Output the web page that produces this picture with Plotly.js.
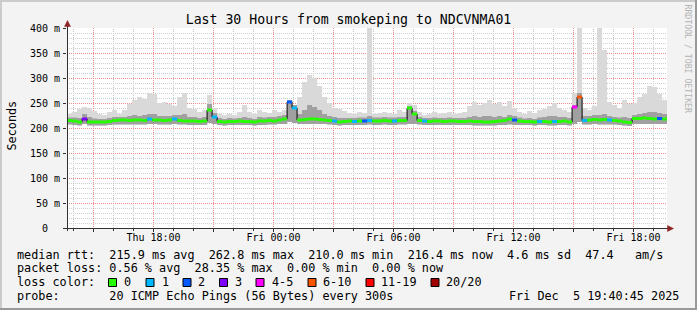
<!DOCTYPE html>
<html><head><meta charset="utf-8">
<script src="https://cdn.plot.ly/plotly-3.0.1.min.js"></script>
<style>html,body{margin:0;padding:0;background:#f3f3f3;overflow:hidden}#chart{width:697px;height:310px}</style>
</head><body><div id="chart"></div>
<script>
// ---- data (15-minute bins, 30 hours) ----
const startUTC = [2025, 11, 4, 13, 40, 45];   // Thu Dec 4 13:40:45
const stepMinutes = 15;
const axisRange = ['2025-12-04 13:40:30', '2025-12-05 19:40:30'];

const median = [
215,214,212,218,212,212,212,212,213,215,
216,216,215,216,216,215,218,216,216,215,
216,218,215,214,214,214,213,214,236,222,
213,212,213,213,214,213,213,212,214,214,
215,214,216,218,252,240,216,217,218,218,
217,216,215,214,212,213,214,213,214,214,
215,214,214,215,214,214,215,215,240,228,
215,214,213,214,214,213,214,214,213,213,
214,213,213,212,212,213,214,215,218,216,
214,213,213,212,213,213,212,213,213,214,
212,242,262,215,216,217,216,217,216,215,
214,212,211,219,219,220,219,218,219,218];

const lossPings = [
0,0,0,3,0,0,0,0,0,0,
0,0,0,0,0,0,1,0,0,0,
0,1,0,0,0,0,0,0,0,1,
0,0,0,0,0,0,0,0,0,0,
0,0,0,0,2,1,0,0,0,0,
0,0,0,1,0,0,0,1,0,2,
1,0,0,0,0,1,0,0,0,0,
0,1,0,0,0,0,0,0,0,0,
0,0,0,0,0,0,0,0,0,2,
0,0,0,0,1,0,0,1,0,0,
0,4,6,1,0,0,0,0,1,0,
0,0,0,0,0,0,0,0,2,0];

const smokeMin = [
207,206,205,208,205,205,205,205,206,207,
207,207,207,207,207,207,208,208,207,207,
207,208,207,207,206,206,206,206,210,208,
206,205,206,206,206,206,206,205,206,206,
207,207,208,208,212,210,208,208,208,208,
208,208,207,206,205,206,206,206,206,206,
207,206,206,207,206,206,207,207,208,208,
207,206,206,206,206,206,206,206,206,206,
206,205,205,205,205,205,206,206,207,206,
206,206,206,205,206,206,205,205,206,206,
205,208,212,207,207,208,207,207,207,207,
206,205,204,208,208,208,208,208,208,208];

const smokeInner = [
221,221,220,228,222,219,218,218,220,222,
222,222,224,226,224,226,228,228,224,224,
224,226,226,228,222,222,220,222,248,230,
220,218,220,219,220,222,220,218,222,221,
222,222,224,226,256,246,228,236,246,242,
236,228,224,222,220,220,220,220,221,221,
224,221,221,222,221,221,222,222,244,234,
222,220,220,221,220,220,221,220,220,220,
222,224,222,224,224,222,224,222,226,224,
221,219,220,218,221,222,224,224,222,222,
220,246,270,224,224,226,226,228,224,222,
221,222,220,226,228,230,232,232,230,228];

const smokeMax = [
228,232,238,242,240,234,228,226,232,236,
228,236,248,256,262,258,270,268,250,252,
248,244,262,270,240,238,232,236,266,240,
228,226,228,226,232,246,232,228,236,232,
230,236,232,236,256,246,262,292,306,300,
284,262,250,240,238,234,230,228,232,230,
400,228,230,232,230,228,236,232,250,246,
232,226,228,232,228,230,232,228,230,232,
244,252,246,250,256,248,252,244,254,240,
232,228,234,230,236,238,244,250,240,236,
232,270,400,240,236,244,400,356,252,246,
240,256,248,250,262,268,284,282,268,256];

const lossLabels = ['0','1','2','3','4-5','6-10','11-19','20/20'];
const lossUpper  = [0,1,2,3,5,10,19,20];
const lossColors = ['#26ff00','#00b8ff','#0059ff','#7e00ff','#ff00ff','#ff5500','#ff0000','#a10000'];

const xTickVals = ['2025-12-04 15:00','2025-12-04 18:00','2025-12-04 21:00','2025-12-05 00:00','2025-12-05 03:00',
                   '2025-12-05 06:00','2025-12-05 09:00','2025-12-05 12:00','2025-12-05 15:00','2025-12-05 18:00'];
const xTickText = ['','Thu 18:00','','Fri 00:00','','Fri 06:00','','Fri 12:00','','Fri 18:00'];
const yTickVals = [0,50,100,150,200,250,300,350,400];
const yTickText = ['0\u00a0\u00a0','50 m','100 m','150 m','200 m','250 m','300 m','350 m','400 m'];

const titleText = 'Last 30 Hours from smokeping to NDCVNMA01';
const legendRows = [
  'median rtt:  215.9 ms avg  262.8 ms max  210.0 ms min  216.4 ms now  4.6 ms sd  47.4   am/s',
  'packet loss: 0.56 % avg  28.35 % max  0.00 % min  0.00 % now',
  'loss color:',
  'probe:       20 ICMP Echo Pings (56 Bytes) every 300s'
];
const dateStamp = 'Fri Dec  5 19:40:45 2025';
const watermark = 'RRDTOOL / TOBI OETIKER';

// ---- build ----
const MONO = 'DejaVu Sans Mono';
const L = 67, T = 28, W = 600, H = 200;
const px = x => (x - L) / W;
const py = y => (T + H - y) / H;
const nb = s => s.replace(/ /g, '\u00a0');

function fmt(ms){const d=new Date(ms);const p=n=>String(n).padStart(2,'0');
  return d.getUTCFullYear()+'-'+p(d.getUTCMonth()+1)+'-'+p(d.getUTCDate())+' '+p(d.getUTCHours())+':'+p(d.getUTCMinutes())+':'+p(d.getUTCSeconds());}
const t0 = Date.UTC(...startUTC);
const times = [];
for (let i = 0; i <= median.length; i++) times.push(fmt(t0 + i*stepMinutes*60000));
const ext = a => a.concat([a[a.length-1]]);
const lossCat = n => { for (let k=0;k<lossUpper.length;k++) if (n <= lossUpper[k]) return k; return lossUpper.length-1; };

const base = {mode:'lines', hoverinfo:'skip', showlegend:false};
const traces = [
  Object.assign({}, base, {x:times, y:ext(smokeMin), line:{width:0, shape:'hv'}}),
  Object.assign({}, base, {x:times, y:ext(smokeMax), line:{width:0, shape:'hv'}, fill:'tonexty', fillcolor:'#d9d9d9'}),
  Object.assign({}, base, {x:times, y:ext(smokeMin), line:{width:0, shape:'hv'}}),
  Object.assign({}, base, {x:times, y:ext(smokeInner), line:{width:0, shape:'hv'}, fill:'tonexty', fillcolor:'#a0a0a0'}),
  Object.assign({}, base, {x:times, y:ext(median), line:{width:1, color:'#000', shape:'hv'}})
];
lossLabels.forEach((lab, k) => {
  const xs = [], ys = [];
  for (let i = 0; i < median.length; i++) {
    if (lossCat(lossPings[i]) !== k) continue;
    xs.push(times[i], times[i+1], null); ys.push(median[i], median[i], null);
  }
  if (xs.length) traces.push(Object.assign({}, base, {x:xs, y:ys, connectgaps:false, line:{width:3, color:lossColors[k]}}));
});

const txt = (x, y, s, opt) => Object.assign({xref:'paper', yref:'paper', x:px(x), y:py(y), text:nb(s), showarrow:false,
  xanchor:'left', yanchor:'middle', borderpad:0, font:{family:MONO, size:11.8, color:'#000'}}, opt||{});

const rowY = [254.5, 268, 282, 296];
const annotations = legendRows.map((r, i) => txt(16, rowY[i], r));
annotations.push(txt(680, rowY[3], dateStamp, {xanchor:'right'}));
const boxX = [108.5, 146, 183, 219.5, 256, 308, 366, 431];
const labX = [123.3, 161, 196.7, 234.3, 271, 322.3, 380, 445];
const shapes = [];
// hourly grey dotted grid (3-hour lines come from the axis grid)
const h0 = Date.UTC(2025, 11, 4, 14, 0, 0);
for (let h = 0; h < 30; h++) {
  const v = fmt(h0 + h*3600000);
  if (xTickVals.some(t => v.startsWith(t))) continue;
  shapes.push({type:'line', xref:'x', yref:'paper', x0:v, x1:v, y0:0, y1:1, layer:'below',
    line:{color:'#c4c4c4', width:1, dash:'1px,1px'}});
}
lossLabels.forEach((lab, k) => {
  annotations.push(txt(labX[k], rowY[2], lab));
  shapes.push({type:'rect', xref:'paper', yref:'paper', x0:px(boxX[k]), x1:px(boxX[k]+8), y0:py(278.5), y1:py(286.5),
    fillcolor:lossColors[k], line:{color:'#000', width:1}});
});
annotations.push(txt(11, 125.5, 'Seconds', {xanchor:'center', textangle:-90}));
annotations.push(txt(687.5, 59, watermark, {xanchor:'center', textangle:90, font:{family:MONO, size:8.2, color:'#b4b4b4'}}));

// axes, arrows, frame shading
const AX = '#303030', AR = '#8e2424';
shapes.push({type:'line', xref:'paper', yref:'paper', x0:px(67.5), x1:px(67.5), y0:py(231), y1:py(24), line:{color:AX, width:1}});
shapes.push({type:'line', xref:'paper', yref:'paper', x0:px(63), x1:px(669), y0:py(228.5), y1:py(228.5), line:{color:AX, width:1}});
shapes.push({type:'path', xref:'paper', yref:'paper', fillcolor:AR, line:{color:AR, width:0.5},
  path:`M ${px(67.5)} ${py(20.5)} L ${px(64.5)} ${py(26.5)} L ${px(70.5)} ${py(26.5)} Z`});
shapes.push({type:'path', xref:'paper', yref:'paper', fillcolor:AR, line:{color:AR, width:0.5},
  path:`M ${px(673.5)} ${py(228.5)} L ${px(667.5)} ${py(225.5)} L ${px(667.5)} ${py(231.5)} Z`});
shapes.push({type:'rect', xref:'paper', yref:'paper', x0:px(0), x1:px(697), y0:py(0), y1:py(2), fillcolor:'#cbcbcb', line:{width:0}});
shapes.push({type:'rect', xref:'paper', yref:'paper', x0:px(0), x1:px(2), y0:py(0), y1:py(310), fillcolor:'#cbcbcb', line:{width:0}});
shapes.push({type:'rect', xref:'paper', yref:'paper', x0:px(0), x1:px(697), y0:py(308), y1:py(310), fillcolor:'#999999', line:{width:0}});
shapes.push({type:'rect', xref:'paper', yref:'paper', x0:px(695), x1:px(697), y0:py(0), y1:py(310), fillcolor:'#999999', line:{width:0}});

const layout = {
  width:697, height:310, autosize:false,
  margin:{l:L, r:697-L-W, t:T, b:310-T-H, pad:0},
  paper_bgcolor:'#f3f3f3', plot_bgcolor:'#ffffff',
  title:{text:titleText, font:{family:MONO, size:13.2, color:'#000'}, xref:'container', yref:'container', x:0.5, xanchor:'center', y:1-19.5/310, yanchor:'middle'},
  xaxis:{type:'date', range:axisRange, tickmode:'array', tickvals:xTickVals, ticktext:xTickText,
    showgrid:true, gridcolor:'#ee8c8c', griddash:'1px,1px', gridwidth:1, zeroline:false, showline:false,
    ticks:'outside', ticklen:3, tickcolor:AX, ticklabelstandoff:-3, tickfont:{family:MONO, size:10, color:'#000'},
    minor:{dtick:3600000, tick0:'2025-12-04 00:00', showgrid:false, ticks:'outside', ticklen:2, tickcolor:AX},
    fixedrange:true},
  yaxis:{range:[0,400], tickmode:'array', tickvals:yTickVals, ticktext:yTickText,
    showgrid:true, gridcolor:'#ee8c8c', griddash:'1px,1px', gridwidth:1, zeroline:false, showline:false,
    ticks:'outside', ticklen:3, tickcolor:AX, ticklabelstandoff:1, tickfont:{family:MONO, size:10, color:'#000'},
    minor:{dtick:10, showgrid:true, gridcolor:'#d0d0d0', griddash:'1px,1px'},
    fixedrange:true},
  shapes:shapes, annotations:annotations, showlegend:false
};
Plotly.newPlot('chart', traces, layout, {displayModeBar:false, staticPlot:true});
</script></body></html>
